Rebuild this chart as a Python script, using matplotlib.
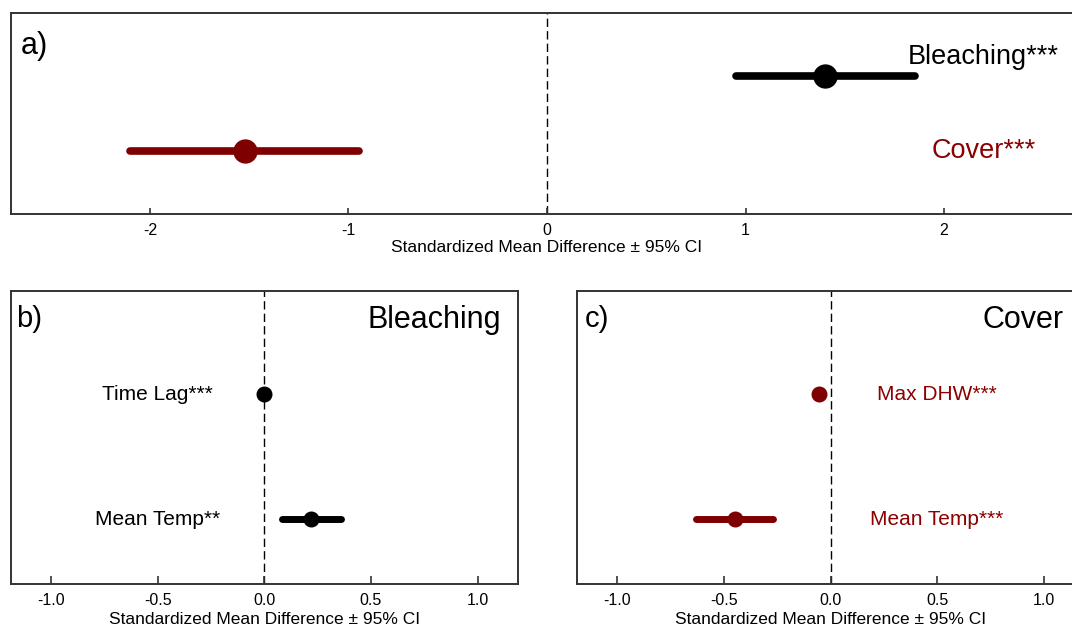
import matplotlib

matplotlib.use("Agg")
import matplotlib.pyplot as plt

plt.rcParams["font.family"] = ["Liberation Sans", "DejaVu Sans"]

# --- datos ---
# a) efecto global
a_labels = ["Bleaching***", "Cover***"]
a_mean = [1.40, -1.52]
a_lo = [0.95, -2.10]
a_hi = [1.855, -0.945]

# b) moderadores de blanqueamiento
b_labels = ["Time Lag***", "Mean Temp**"]
b_mean = [0.0, 0.22]
b_lo = [-0.004, 0.085]
b_hi = [0.004, 0.36]

# c) moderadores de cobertura
c_labels = ["Max DHW***", "Mean Temp***"]
c_mean = [-0.055, -0.45]
c_lo = [-0.06, -0.63]
c_hi = [-0.05, -0.27]

RED = "#7F0000"
RED_TXT = "#8B0000"
SPINE = "#333333"
XLABEL = "Standardized Mean Difference \u00b1 95% CI"

W, H = 1072, 627
fig = plt.figure(figsize=(W / 100, H / 100), dpi=100)


def px_axes(x0, y0, x1, y1):
    """Ejes a partir de coordenadas en píxeles (origen arriba a la izquierda)."""
    return fig.add_axes([x0 / W, 1 - y1 / H, (x1 - x0) / W, (y1 - y0) / H])


def style(ax, xlim, ylim, ticks, ticklabels, ticklen=5, labelpad=2.5):
    ax.set_xlim(*xlim)
    ax.set_ylim(*ylim)
    ax.set_yticks([])
    ax.set_xticks(ticks)
    ax.set_xticklabels(ticklabels)
    ax.tick_params(axis="x", direction="in", length=ticklen, width=1.2, color=SPINE,
                   labelsize=11.5, pad=6.5)
    for sp in ax.spines.values():
        sp.set_color(SPINE)
        sp.set_linewidth(1.4)
    ax.axvline(0, color="black", lw=1.0, ls=(0, (6, 3)), zorder=1)
    ax.set_xlabel(XLABEL, fontsize=12.5, labelpad=labelpad)


def forest(ax, means, lo, hi, ys, color, lw, ms):
    for m, l, h, y in zip(means, lo, hi, ys):
        ax.plot([l, h], [y, y], color=color, lw=lw, solid_capstyle="round", zorder=2)
        ax.plot([m], [y], "o", color=color, ms=ms, zorder=3)


# --- a) ---
ax_a = px_axes(11, 12.7, 1083, 214.3)
style(ax_a, (-2.7, 2.7), (0.15, 2.85), [-2, -1, 0, 1, 2], ["-2", "-1", "0", "1", "2"],
      ticklen=4, labelpad=1)
ys_a = [2, 1]
a_colors = ["black", RED]
for i in range(len(a_labels)):
    forest(ax_a, [a_mean[i]], [a_lo[i]], [a_hi[i]], [ys_a[i]], a_colors[i], 5.5, 16.5)
ax_a.text(2.2, 2.25, a_labels[0], ha="center", va="center", fontsize=19.5, color="black")
ax_a.text(2.2, 1.0, a_labels[1], ha="center", va="center", fontsize=19.5, color=RED_TXT)
ax_a.text(0.009, 0.835, "a)", transform=ax_a.transAxes, ha="left", va="center", fontsize=22)

# --- b) ---
ticks_bc = [-1.0, -0.5, 0.0, 0.5, 1.0]
ticklab_bc = ["-1.0", "-0.5", "0.0", "0.5", "1.0"]
ys_bc = [2, 1]

ax_b = px_axes(11, 290.7, 517.7, 584)
style(ax_b, (-1.188, 1.188), (0.48, 2.83), ticks_bc, ticklab_bc, ticklen=6)
forest(ax_b, b_mean, b_lo, b_hi, ys_bc, "black", 5, 10.5)
for lab, y in zip(b_labels, ys_bc):
    ax_b.text(-0.5, y, lab, ha="center", va="center", fontsize=15, color="black")
ax_b.text(0.011, 0.905, "b)", transform=ax_b.transAxes, ha="left", va="center", fontsize=21)
ax_b.text(0.968, 0.90, "Bleaching", transform=ax_b.transAxes, ha="right", va="center", fontsize=22)

# --- c) ---
ax_c = px_axes(577.3, 290.7, 1083.7, 584)
style(ax_c, (-1.188, 1.188), (0.48, 2.83), ticks_bc, ticklab_bc, ticklen=6)
forest(ax_c, c_mean, c_lo, c_hi, ys_bc, RED, 5, 10.5)
for lab, y in zip(c_labels, ys_bc):
    ax_c.text(0.5, y, lab, ha="center", va="center", fontsize=15, color=RED_TXT)
ax_c.text(0.015, 0.905, "c)", transform=ax_c.transAxes, ha="left", va="center", fontsize=21)
ax_c.text(0.96, 0.90, "Cover", transform=ax_c.transAxes, ha="right", va="center", fontsize=22)

fig.savefig("out.png", dpi=100)
